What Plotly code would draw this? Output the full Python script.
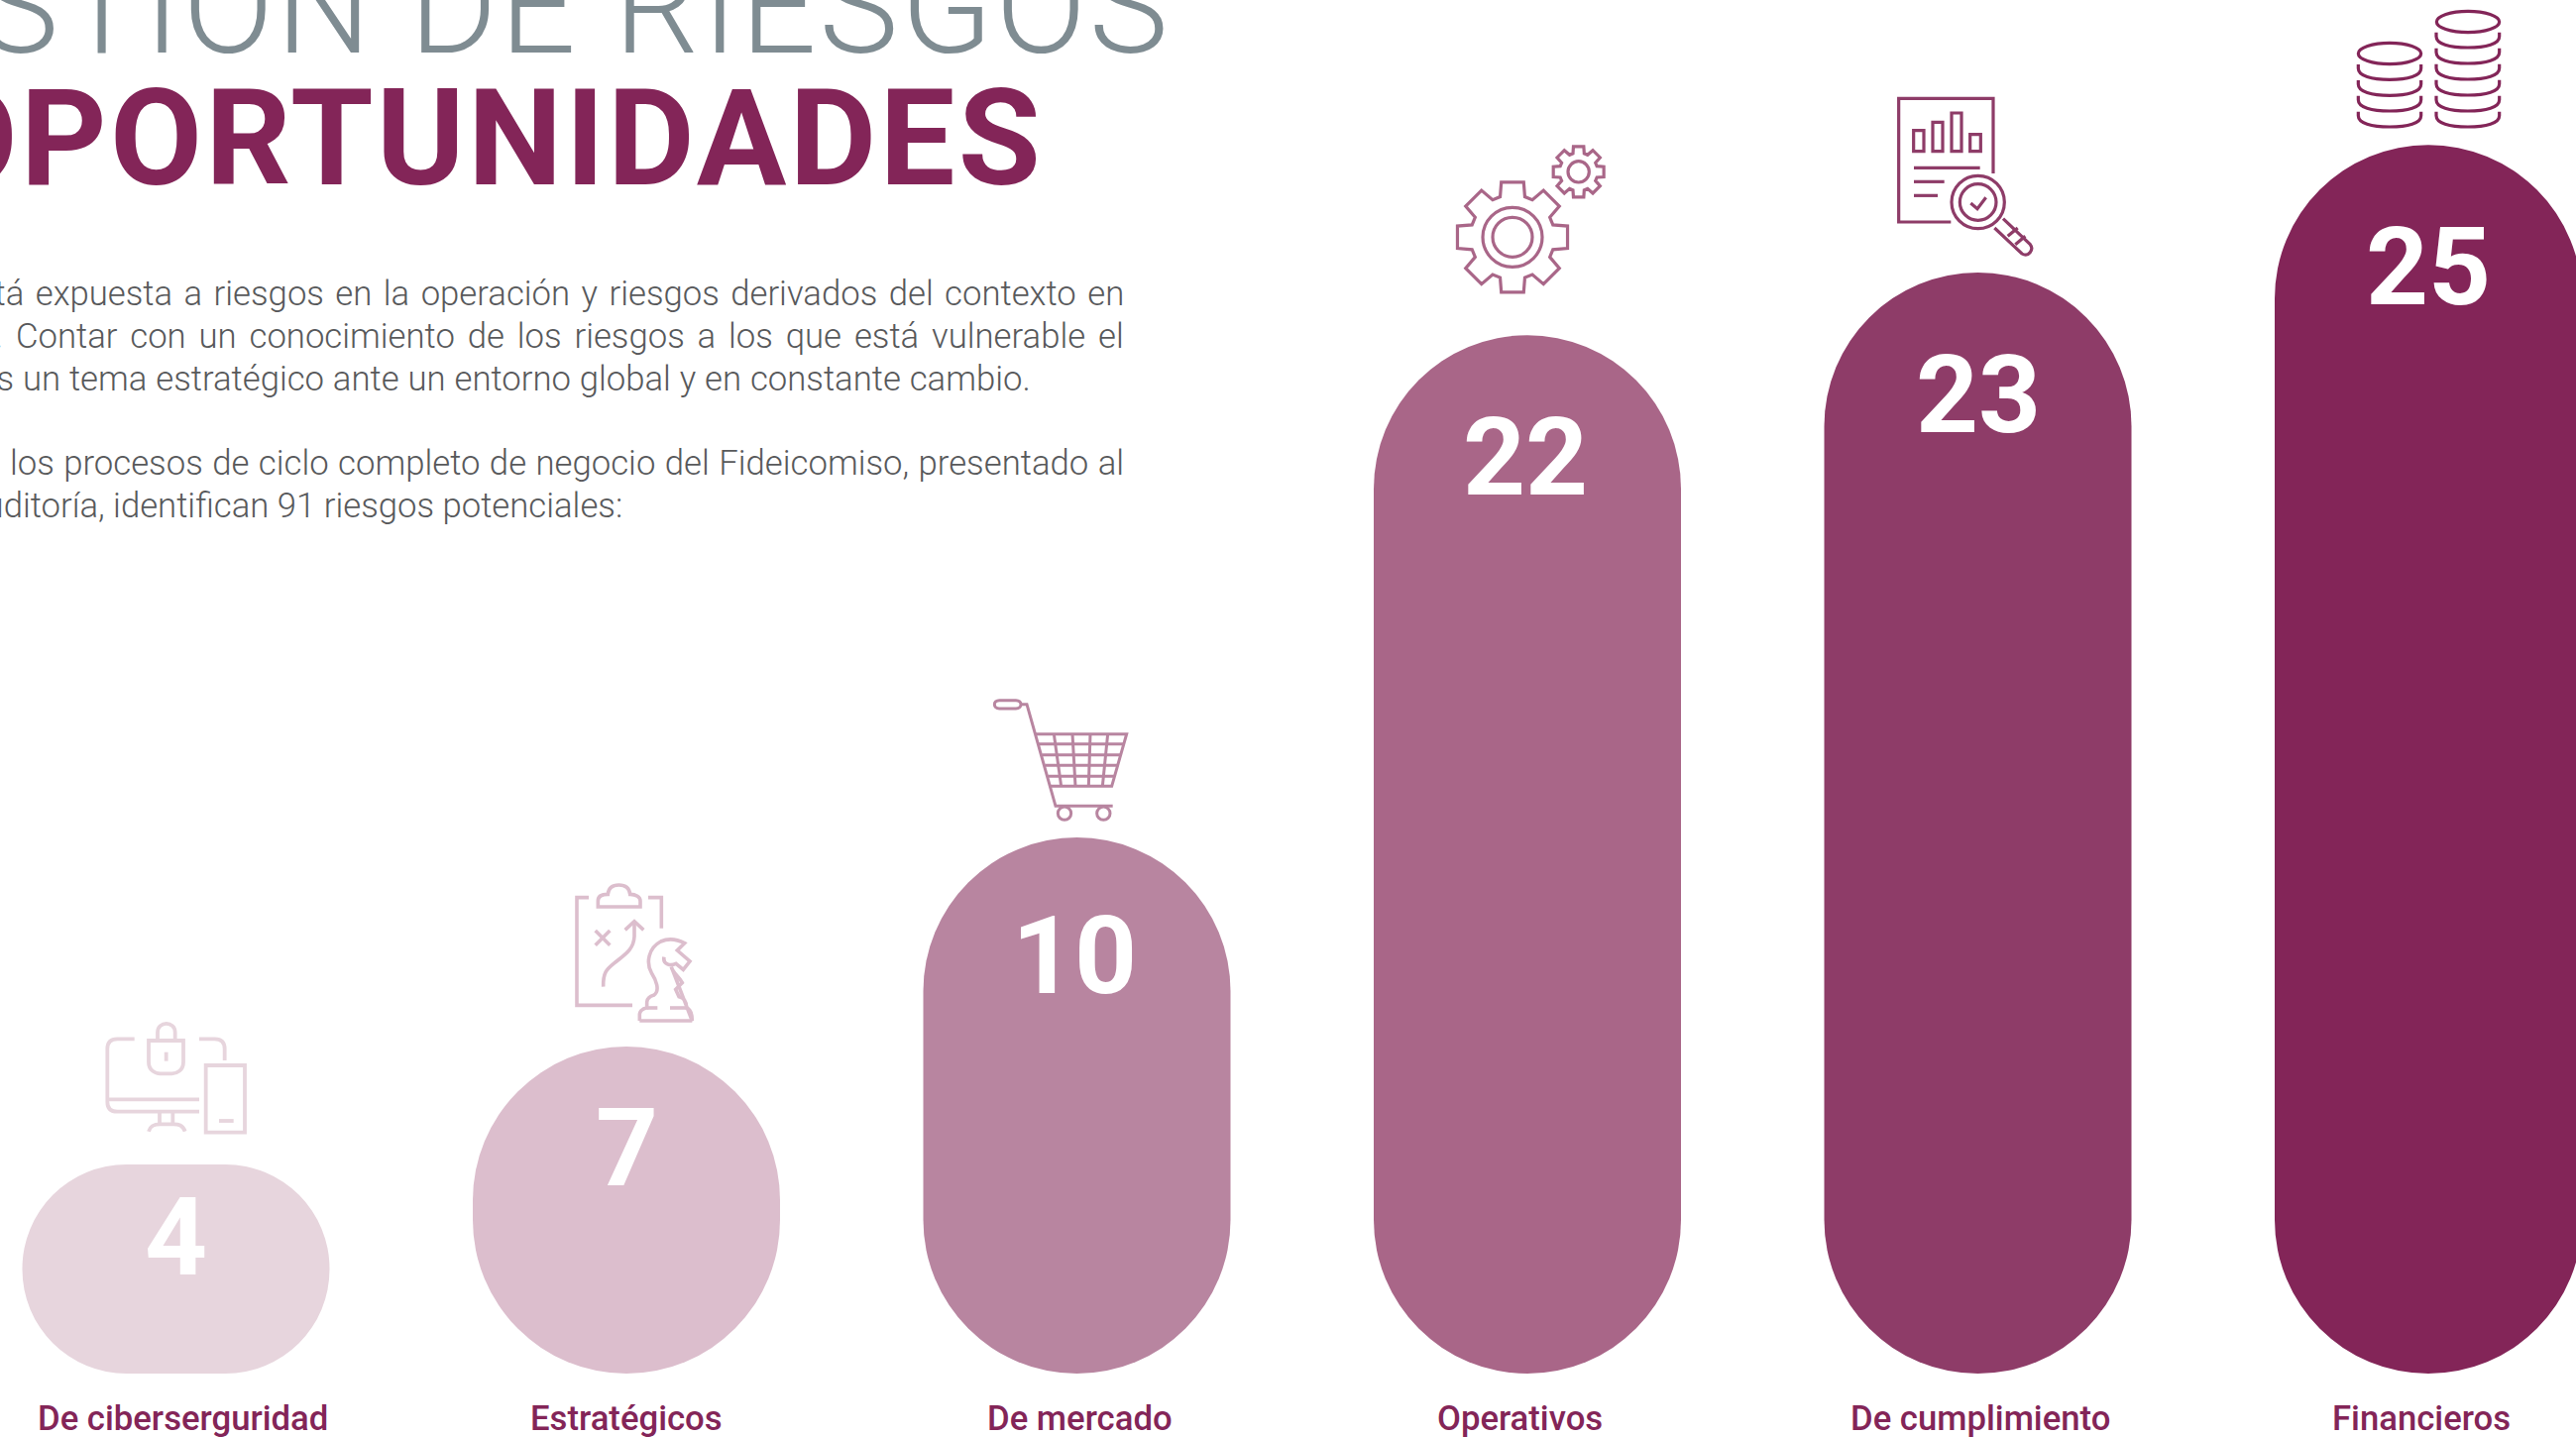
import json
import math
import re
import plotly.graph_objects as go

# ---- data -------------------------------------------------------------
categories = ["De ciberserguridad", "Estratégicos", "De mercado", "Operativos", "De cumplimiento", "Financieros"]
values = [4, 7, 10, 22, 23, 25]
# lengths of the bars as drawn in the picture (they are not strictly proportional to the labels)
drawn_lengths = [4.34, 6.79, 11.13, 21.56, 22.86, 25.51]
bar_colors = ["#E7D5DD", "#DCBECD", "#B885A0", "#A96688", "#8E3C68", "#832558"]
value_offsets = [73, 102, 119, 123, 123, 123]
value_shifts = [0, 0, -3, -2.5, 0, 0]
label_shifts = [7, 0, 3, -8, 2, -7]

title_light = "GESTIÓN DE RIESGOS"
title_bold = "OPORTUNIDADES"
para_lines = [
    "está expuesta a riesgos en la operación y riesgos derivados del contexto en",
    ". Contar con un conocimiento de los riesgos a los que está vulnerable el",
    "es un tema estratégico ante un entorno global y en constante cambio.",
    "los procesos de ciclo completo de negocio del Fideicomiso, presentado al",
    "auditoría, identifican 91 riesgos potenciales:",
]
para_right = [1135.5, 1135.5, 1042, 1135.5, 629.5]
para_mid = [296, 339, 382, 467, 510]
para_word_spacing = [3.0, 4.4, 0.4, 1, 0]

# ---- geometry ----------------------------------------------------------
W, H = 2599, 1450
PITCH, X0, BAR_W, Y_BASE, PX_PER_UNIT = 454.5, 177.5, 310, 1386, 48.6
FONT = "Roboto"


def fx(x):
    return x / W


def fy(y):
    return 1 - y / H


def local_path(ox, oy, d):
    """Turn a path drawn in 3x local crop units into paper coordinates."""
    tokens = re.findall(r"[MLCZ]|-?\d+\.?\d*", d)
    out, is_x = [], True
    for t in tokens:
        if t in "MLCZ":
            out.append(t)
            is_x = True
        else:
            v = float(t) / 3
            out.append(f"{fx(ox + v):.6f}" if is_x else f"{fy(oy + v):.6f}")
            is_x = not is_x
    return " ".join(out)


def ellipse(cx, cy, rx, ry=None):
    ry = rx if ry is None else ry
    k = 0.5523
    return (f"M {cx-rx} {cy} C {cx-rx} {cy-k*ry} {cx-k*rx} {cy-ry} {cx} {cy-ry} "
            f"C {cx+k*rx} {cy-ry} {cx+rx} {cy-k*ry} {cx+rx} {cy} "
            f"C {cx+rx} {cy+k*ry} {cx+k*rx} {cy+ry} {cx} {cy+ry} "
            f"C {cx-k*rx} {cy+ry} {cx-rx} {cy+k*ry} {cx-rx} {cy} Z")


def gear(cx, cy, r_tip, r_root, n=8, tip=11.5, root=17):
    pts = []
    for i in range(n):
        a = 360 / n * i
        for rad, d in ((r_root, -root), (r_tip, -tip), (r_tip, tip), (r_root, root)):
            t = math.radians(a + d)
            pts.append((cx + rad * math.sin(t), cy - rad * math.cos(t)))
    return "M " + " L ".join(f"{x:.1f} {y:.1f}" for x, y in pts) + " Z"


def rect(x0, y0, x1, y1):
    return f"M {x0} {y0} L {x1} {y0} L {x1} {y1} L {x0} {y1} Z"


def cup(x0, x1, y):
    c = (x0 + x1) / 2
    return (f"M {x0} {y} L {x0} {y+12} C {x0} {y+35} {x0+40} {y+46} {c} {y+46} "
            f"C {x1-40} {y+46} {x1} {y+35} {x1} {y+12} L {x1} {y}")


icons = [
    (95, 1020, bar_colors[0], 3.8, [
        "M 122 85 L 70 85 C 50 85 40 95 40 115 L 40 275 C 40 295 50 305 70 305 L 318 305",
        "M 40 268 L 318 268",
        "M 318 85 L 365 85 C 385 85 395 95 395 115 L 395 150",
        "M 198 305 L 198 340", "M 238 305 L 238 340",
        "M 165 365 C 170 345 185 343 200 343 L 240 343 C 255 343 268 345 275 365",
        "M 165 90 L 270 90 L 270 155 C 270 180 250 190 235 190 L 200 190 C 185 190 165 180 165 155 Z",
        "M 192 88 L 192 65 C 192 30 245 30 245 65 L 245 88",
        "M 218 125 L 218 152",
        rect(338, 165, 456, 368), "M 378 333 L 422 333",
    ]),
    (570, 885, bar_colors[1], 3.6, [
        "M 72 62 L 36 62 L 36 388 L 204 388", "M 252 62 L 292 62 L 292 155",
        "M 100 90 L 100 72 C 100 60 110 52 130 52 C 132 30 145 24 163 24 C 182 24 195 32 197 52 C 215 52 228 60 228 72 L 228 90 Z",
        "M 92 162 L 136 206", "M 136 162 L 92 206",
        "M 182 160 L 210 134 L 238 160",
        "M 210 134 L 210 180 C 208 220 180 235 150 260 C 125 280 115 290 116 332",
        "M 226 435 L 226 415 C 228 400 240 398 248 396 L 248 378 C 250 365 260 360 268 358 C 290 345 275 310 262 290 "
        "C 245 260 252 215 290 195 C 310 186 335 186 362 200 L 340 222 L 378 255 L 358 280 L 336 262 "
        "C 320 270 295 265 300 242",
        "M 322 272 C 325 290 345 300 355 320 L 335 340 L 345 362 C 360 365 368 375 368 396 C 380 400 385 410 385 435 Z",
        "M 226 435 L 385 435", "M 248 396 L 280 396", "M 318 396 L 368 396",
    ]),
    (960, 680, bar_colors[2], 3.0, [
        "M 145 80 L 195 80 C 215 80 215 105 195 105 L 145 105 C 125 105 125 80 145 80 Z",
        "M 208 92 L 228 92 L 315 400 L 488 400",
        "M 255 182 L 530 182 L 485 340 L 298 340",
        "M 264 212 L 521 212", "M 274 245 L 512 245", "M 283 277 L 502 277", "M 292 310 L 492 310",
        "M 310 182 L 332 340", "M 366 182 L 375 340", "M 420 182 L 415 340", "M 473 182 L 457 340",
        ellipse(342, 422, 20), ellipse(460, 422, 20),
    ]),
    (1460, 140, bar_colors[3], 3.2, [
        gear(198, 298, 170, 128), ellipse(198, 298, 90), ellipse(198, 298, 60),
        gear(398, 100, 78, 58), ellipse(398, 100, 32),
    ]),
    (1905, 90, bar_colors[4], 3.2, [
        "M 190 402 L 32 402 L 32 28 L 318 28 L 318 255",
        rect(77, 125, 108, 188), rect(135, 100, 165, 188), rect(192, 72, 222, 188), rect(248, 137, 280, 188),
        "M 78 238 L 278 238", "M 78 280 L 170 280", "M 78 322 L 150 322",
        ellipse(272, 342, 80), ellipse(272, 342, 55),
        "M 250 345 L 270 362 L 296 328",
        "M 348 392 L 430 470 C 442 485 425 510 405 498 L 322 420",
        "M 362 445 L 392 420", "M 385 470 L 415 445",
    ]),
    (2370, 0, bar_colors[5], 3.2, [
        ellipse(123, 162, 95, 32), cup(28, 218, 195), cup(28, 218, 243), cup(28, 218, 290), cup(28, 218, 338),
        ellipse(360, 66, 95, 32), cup(264, 455, 98), cup(264, 455, 146), cup(264, 455, 194),
        cup(264, 455, 242), cup(264, 455, 290), cup(264, 455, 338),
    ]),
]

# ---- figure ------------------------------------------------------------
fig = go.Figure()
for cat, length, color in zip(categories, drawn_lengths, bar_colors):
    radius = min(BAR_W, length * PX_PER_UNIT) / 2
    # an explicit base makes plotly round both ends of the bar
    fig.add_trace(go.Bar(x=[cat], y=[length], base=[0], width=BAR_W / PITCH,
                         marker=dict(color=color, cornerradius=radius, line=dict(width=0)),
                         showlegend=False, hoverinfo="skip"))

shapes = []
for ox, oy, color, lw, paths in icons:
    for d in paths:
        shapes.append(dict(type="path", xref="paper", yref="paper", path=local_path(ox, oy, d),
                           line=dict(color=color, width=lw), fillcolor="rgba(0,0,0,0)", layer="above"))

ann = []
for cat, v, length, off, xs in zip(categories, values, drawn_lengths, value_offsets, value_shifts):
    ann.append(dict(x=cat, y=length, xref="x", yref="y", xshift=xs, yshift=-off, text=str(v), showarrow=False,
                    xanchor="center", yanchor="middle",
                    font=dict(family=FONT, size=110, color="#FFFFFF", weight=700)))
for cat, shift in zip(categories, label_shifts):
    ann.append(dict(x=cat, y=fy(1431), xref="x", yref="paper", xshift=shift, text=cat, showarrow=False,
                    xanchor="center", yanchor="middle",
                    font=dict(family=FONT, size=34.7, color="#832558", weight=500)))
ann.append(dict(x=fx(1183.5), y=fy(7), xref="paper", yref="paper", text=title_light, showarrow=False,
                xanchor="right", yanchor="middle", font=dict(family=FONT, size=135, color="#7F8C92", weight=300)))
ann.append(dict(x=fx(1055), y=fy(140), xref="paper", yref="paper", text=title_bold, showarrow=False,
                xanchor="right", yanchor="middle", font=dict(family=FONT, size=135, color="#832558", weight=700)))
for line, right, mid in zip(para_lines, para_right, para_mid):
    ann.append(dict(x=fx(right), y=fy(mid), xref="paper", yref="paper", text=line, showarrow=False,
                    xanchor="right", yanchor="middle", font=dict(family=FONT, size=34.7, color="#58595B", weight=300)))

fig.update_layout(
    width=W, height=H, margin=dict(l=0, r=0, t=0, b=0),
    paper_bgcolor="#FFFFFF", plot_bgcolor="#FFFFFF",
    barmode="overlay", shapes=shapes, annotations=ann,
    xaxis=dict(type="category", categoryorder="array", categoryarray=categories, visible=False,
               range=[-X0 / PITCH, (W - X0) / PITCH], fixedrange=True),
    yaxis=dict(visible=False, range=[-(H - Y_BASE) / PX_PER_UNIT, Y_BASE / PX_PER_UNIT], fixedrange=True),
)

# letter and word spacing of the page's text, which plotly has no attribute for
spacing = {title_light: ("2.8px", "0px"), title_bold: ("3.2px", "0px")}
for line, ws in zip(para_lines, para_word_spacing):
    spacing[line] = ("0px", f"{ws}px")
post = """
document.documentElement.style.margin = '0';
document.body.style.margin = '0';
document.body.style.overflow = 'hidden';
var SP = %s;
function applySpacing() {
  document.querySelectorAll('.annotation-text').forEach(function (t) {
    var s = SP[t.textContent];
    if (!s || t.dataset.spaced) return;
    var a = t.getBBox();
    t.style.letterSpacing = s[0];
    t.style.wordSpacing = s[1];
    var b = t.getBBox();
    t.setAttribute('x', parseFloat(t.getAttribute('x')) - (b.x + b.width - a.x - a.width));
    t.dataset.spaced = '1';
  });
}
applySpacing();
setTimeout(applySpacing, 0);
setTimeout(applySpacing, 300);
""" % json.dumps(spacing, ensure_ascii=False)
fig.write_html("out.html", post_script=post, config=dict(displayModeBar=False, staticPlot=True))
